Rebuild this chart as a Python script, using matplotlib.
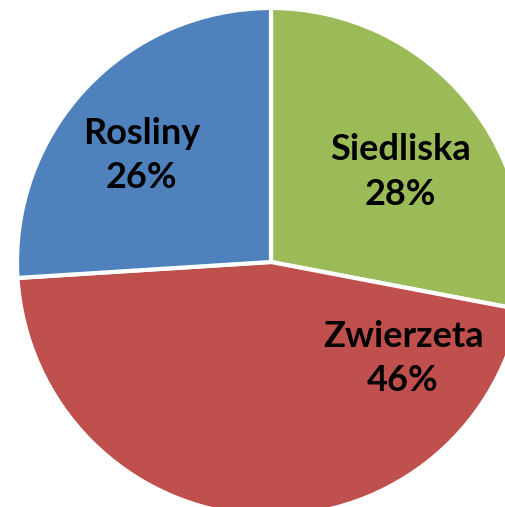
import matplotlib.pyplot as plt

categories = ['Siedliska', 'Zwierzeta', 'Rosliny']
shares = [28, 46, 26]
colors = ['#9BBB59', '#C0504D', '#4F81BD']

# label anchor points, as fractions of the radius (x, y) from the centre
label_pos = [(0.51, 0.355), (0.52, -0.38), (-0.51, 0.42)]

W, H = 505, 507
cx, cy, R = 271, 262, 254  # pixels, from top-left

fig = plt.figure(figsize=(W / 100, H / 100), dpi=100)
ax = fig.add_axes([0, 0, 1, 1])
ax.pie(shares, colors=colors, startangle=90, counterclock=False,
       wedgeprops=dict(edgecolor='white', linewidth=3))
ax.set_xlim(-cx / R, (W - cx) / R)
ax.set_ylim(-(H - cy) / R, cy / R)
ax.set_aspect('equal')
ax.axis('off')

for name, val, (x, y) in zip(categories, shares, label_pos):
    ax.text(x, y, f'{name}\n{val}%', ha='center', va='center',
            fontsize=26, fontweight='bold', family='Lato',
            linespacing=1.42)

fig.savefig('out.png', dpi=100)
